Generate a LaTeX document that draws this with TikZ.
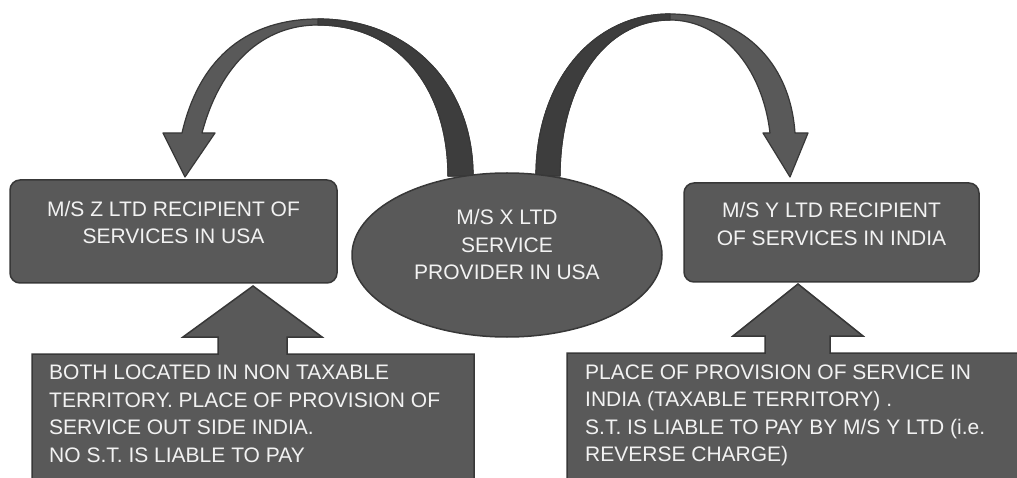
\documentclass[tikz,border=0pt]{standalone}
\usepackage{fontspec}
\setmainfont{Liberation Sans}
\usetikzlibrary{shapes.geometric}
\definecolor{boxgray}{HTML}{595959}
\definecolor{edgegray}{HTML}{383838}
\definecolor{backgray}{HTML}{3D3D3D}
\definecolor{txtgray}{HTML}{F2F2F2}
\tikzset{
  recbox/.style={draw=edgegray, fill=boxgray, line width=1.5pt, rounded corners=10pt, inner sep=0pt},
  provider/.style={ellipse, draw=edgegray, fill=boxgray, line width=1.5pt, inner sep=0pt},
  callout/.style={draw=edgegray, fill=boxgray, line width=1.5pt},
  bigarrow/.style={draw=edgegray, fill=boxgray, line width=1.2pt, line join=round},
  backpart/.style={draw=edgegray, fill=backgray, line width=1.2pt, line join=round},
  boxtext/.style={text=txtgray, font=\fontsize{21}{27.5}\selectfont, inner sep=0pt, align=center},
  notetext/.style={boxtext, align=left, anchor=west}
}

\begin{document}
\begin{tikzpicture}[x=1pt, y=-1pt]
    \clip (0,0) rectangle (1017,478);
    \fill[white] (0,0) rectangle (1017,478);
    % curved arrow to Z
    \draw[bigarrow] (473,176) .. controls (473,85) and (410,19) .. (318,19)
        .. controls (250,19) and (200,55) .. (182,133) -- (163,133) -- (185,177) -- (215,133) -- (202,133)
        .. controls (220,65) and (262,25) .. (318,25) .. controls (400,25) and (448,90) .. (448,176) -- cycle;
    \draw[backpart] (318,19) .. controls (410,19) and (473,85) .. (473,176) -- (448,176)
        .. controls (448,90) and (400,25) .. (318,25) -- cycle;
    % curved arrow to Y
    \draw[bigarrow] (536,176) .. controls (536,85) and (590,14) .. (670,14)
        .. controls (740,14) and (790,60) .. (795,133) -- (808,133) -- (790,177) -- (763,133) -- (770,133)
        .. controls (762,65) and (720,20) .. (670,20) .. controls (605,20) and (560,85) .. (560,176) -- cycle;
    \draw[backpart] (670,14) .. controls (590,14) and (536,85) .. (536,176) -- (560,176)
        .. controls (560,85) and (605,20) .. (670,20) -- cycle;

    \node[recbox, minimum width=327pt, minimum height=103pt] (zbox) at (173.5,231.5) {};
    \node[boxtext] (ztext) at ([yshift=9pt]zbox.center) {M/S Z LTD RECIPIENT OF\\SERVICES IN USA};
    \node[recbox, minimum width=295pt, minimum height=99pt] (ybox) at (831.5,232.5) {};
    \node[boxtext] (ytext) at ([yshift=8.5pt]ybox.center) {M/S Y LTD RECIPIENT\\OF SERVICES IN INDIA};
    \node[provider, minimum width=310pt, minimum height=164pt] (xltd) at (507,255) {};
    \node[boxtext] (xtext) at ([yshift=10.5pt]xltd.center) {M/S X LTD\\SERVICE\\PROVIDER IN USA};

    % notes with up arrows
    \draw[callout] (32,490) -- (32,354) -- (218,354) -- (218,337) -- (183,337) -- (253,286) -- (322,337)
        -- (287,337) -- (287,354) -- (474,354) -- (474,490);
    \node[notetext] (znote) at (49,414) {BOTH LOCATED IN NON TAXABLE\\TERRITORY. PLACE OF PROVISION OF\\SERVICE OUT SIDE INDIA.\\NO S.T. IS LIABLE TO PAY};
    \draw[callout] (567,490) -- (567,353) -- (765,353) -- (765,336) -- (733,336) -- (798,284) -- (863,336)
        -- (830,336) -- (830,353) -- (1030,353) -- (1030,490);
    \node[notetext] (ynote) at (585,415.5) {PLACE OF PROVISION OF SERVICE IN\\INDIA (TAXABLE TERRITORY) .\\S.T. IS LIABLE TO PAY BY M/S Y LTD (i.e.\\REVERSE CHARGE)};
\end{tikzpicture}
\end{document}
